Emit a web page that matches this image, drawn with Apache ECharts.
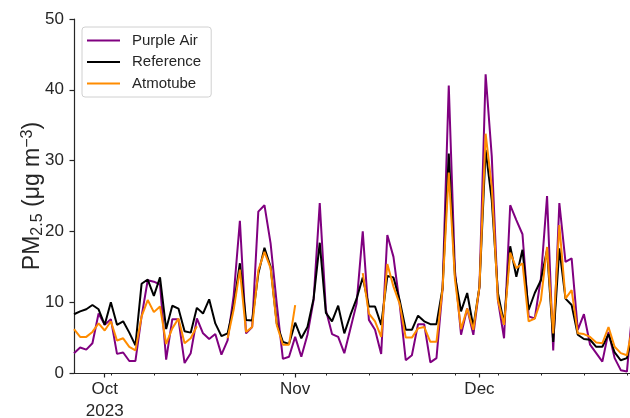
<!DOCTYPE html>
<html>
<head>
<meta charset="utf-8">
<script src="https://cdn.jsdelivr.net/npm/echarts@6/dist/echarts.min.js"></script>
<style>
  html, body { margin: 0; padding: 0; background: #fff; }
  #chart { width: 630px; height: 418px; }
</style>
</head>
<body>
<div id="chart"></div>
<script>
// daily means; day 0 = 2023-09-26
const purpleAir = [
  2.8, 3.6, 3.3, 4.2, 8.4, 6.8, 7.6, 2.7, 2.9, 1.7,
  1.7, 8.0, 13.1, 12.9, 12.5, 1.9, 7.6, 7.6, 1.4, 2.8,
  7.7, 5.6, 4.8, 5.5, 2.6, 4.6, 11.0, 21.5, 5.6, 6.5,
  22.8, 23.7, 18.3, 9.8, 2.0, 2.3, 5.1, 2.3, 5.4, 10.3,
  24.0, 8.9, 5.5, 5.1, 2.8, 6.3, 9.8, 20.0, 7.5, 6.1,
  2.7, 19.5, 16.4, 9.8, 1.8, 2.5, 6.9, 6.9, 1.5, 2.1,
  12.0, 40.6, 14.5, 5.4, 9.1, 5.4, 12.2, 42.2, 30.6, 10.3,
  4.9, 23.7, 21.6, 19.6, 8.0, 7.7, 13.4, 25.0, 3.2, 24.0,
  15.7, 16.2, 6.1, 8.3, 4.0, 2.8, 1.6, 5.8, 2.1, 0.4,
  0.2, 10.0
];

const reference = [
  8.3, 8.7, 9.0, 9.6, 9.0, 6.8, 10.0, 6.8, 7.3, 5.7,
  3.9, 12.6, 13.2, 10.9, 13.5, 6.2, 9.5, 9.1, 5.9, 5.7,
  9.2, 8.4, 10.4, 7.0, 5.2, 5.6, 9.5, 15.5, 7.5, 7.4,
  14.0, 17.7, 15.0, 7.0, 4.4, 4.1, 7.1, 4.9, 6.5, 10.5,
  18.4, 8.5, 7.3, 9.5, 5.6, 8.2, 10.5, 13.5, 9.4, 9.4,
  6.8, 13.7, 13.5, 10.3, 6.1, 6.1, 8.1, 7.3, 6.9, 6.9,
  12.0, 31.0, 13.8, 8.7, 11.3, 6.5, 12.2, 31.5, 24.4, 11.3,
  7.0, 17.9, 13.6, 17.4, 8.9, 11.3, 13.1, 17.4, 4.4, 17.6,
  10.5, 9.6, 5.4, 4.8, 4.7, 3.7, 3.7, 5.5, 2.9, 1.8,
  2.1, 6.0
];

const atmotube = [
  6.2, 5.1, 5.1, 5.8, 7.0, 6.0, 7.3, 4.6, 4.9, 3.7,
  3.2, 8.0, 10.3, 8.6, 9.4, 4.1, 6.3, 7.7, 4.2, 4.9,
  6.6, null, null, null, null, 4.9, 9.0, 14.6, 5.8, 6.5,
  14.5, 17.1, 14.8, 6.8, 4.0, 4.0, 9.6, null, null, null,
  null, null, null, null, null, null, null, 14.1, 8.4, 7.3,
  5.1, 15.4, 12.2, 9.8, 5.0, 5.0, 6.3, 6.5, 4.4, 4.4,
  12.0, 28.3, 13.3, 6.2, 9.1, 6.1, 12.2, 33.8, 26.3, 10.3,
  6.8, 17.0, 14.8, 15.5, 7.3, 7.7, 10.3, 17.8, 5.6, 20.9,
  10.5, 11.7, 5.6, 5.5, 5.1, 4.3, 4.2, 6.5, 3.7, 2.8,
  2.5, 7.0
];

const seriesNames = ['Purple Air', 'Reference', 'Atmotube'];
const seriesColors = ['#800080', '#000000', '#ff8c00'];
// month starts (day index) and their labels
const monthTickDays = [5, 36, 66];
const monthTickLabels = ['Oct\n2023', 'Nov', 'Dec'];
// Mondays (day index)
const weekTickDays = [6, 13, 20, 27, 34, 41, 48, 55, 62, 69, 76, 83, 90];
const dayMin = 0;
const dayMax = 90.5;

const ink = '#262626';
const font = '"Liberation Sans", Arial, sans-serif';

const chart = echarts.init(document.getElementById('chart'));
chart.setOption({
  animation: false,
  textStyle: { fontFamily: font },
  grid: { left: 74, right: 0, top: 19, bottom: 45, containLabel: false, outerBoundsMode: 'none' },
  legend: {
    orient: 'vertical',
    left: 82,
    top: 27,
    padding: [6, 10, 6, 5],
    itemWidth: 33,
    itemHeight: 2,
    itemGap: 6.5,
    backgroundColor: '#fff',
    borderColor: '#d0d0d0',
    borderWidth: 1,
    borderRadius: 3,
    textStyle: { fontSize: 15, color: ink, fontFamily: font, padding: [0, 0, 0, 7] },
    data: seriesNames.map((n, i) => ({ name: n, icon: 'rect', itemStyle: { color: seriesColors[i] } }))
  },
  xAxis: [{
    type: 'value',
    min: dayMin,
    max: dayMax,
    splitLine: { show: false },
    axisLine: { lineStyle: { color: ink, width: 1.2 } },
    axisTick: { customValues: monthTickDays, length: 4.5, lineStyle: { color: ink, width: 1.2 } },
    axisLabel: {
      customValues: monthTickDays,
      fontSize: 17,
      color: ink,
      lineHeight: 22,
      margin: 5,
      formatter: v => monthTickLabels[monthTickDays.indexOf(v)]
    }
  }, {
    type: 'value',
    min: dayMin,
    max: dayMax,
    position: 'bottom',
    splitLine: { show: false },
    axisLine: { show: false },
    axisLabel: { show: false },
    axisTick: { customValues: weekTickDays, length: 2.5, lineStyle: { color: ink, width: 1 } }
  }],
  yAxis: {
    type: 'value',
    min: 0,
    max: 50,
    interval: 10,
    splitLine: { show: false },
    axisLine: { show: true, lineStyle: { color: ink, width: 1.2 } },
    axisTick: { show: true, length: 4.5, lineStyle: { color: ink, width: 1.2 } },
    axisLabel: { fontSize: 17, color: ink, margin: 10, verticalAlign: 'middle' },
    name: '{a|PM}{b|2.5}{a| (μg m}{c|−3}{a|)}',
    nameLocation: 'middle',
    nameGap: 41,
    nameMoveOverlap: false,
    nameRotate: 90,
    nameTextStyle: {
      color: ink,
      verticalAlign: 'middle',
      rich: {
        a: { fontSize: 23, color: ink, fontFamily: font },
        b: { fontSize: 16, color: ink, fontFamily: font, padding: [10, 0, 0, 0] },
        c: { fontSize: 16, color: ink, fontFamily: font, padding: [0, 0, 10, 0] }
      }
    }
  },
  series: [purpleAir, reference, atmotube].map((arr, i) => ({
    name: seriesNames[i],
    type: 'line',
    xAxisIndex: 0,
    data: arr.map((v, d) => [d, v]),
    symbol: 'none',
    connectNulls: false,
    clip: true,
    lineStyle: { color: seriesColors[i], width: 2 },
    itemStyle: { color: seriesColors[i] }
  }))
});
</script>
</body>
</html>
